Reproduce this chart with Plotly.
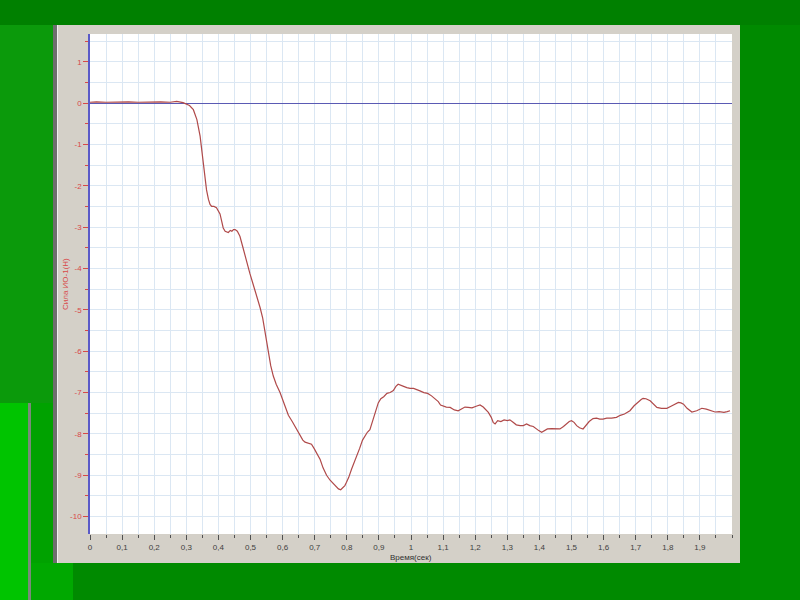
import plotly.graph_objects as go

# ---- data ----
time_s = [0, 0.02, 0.05, 0.08, 0.1, 0.12, 0.15, 0.18, 0.2, 0.22, 0.25, 0.27, 0.29, 0.30, 0.31,
          0.322, 0.333, 0.343, 0.353, 0.358, 0.363, 0.369, 0.374, 0.379, 0.386, 0.394, 0.400,
          0.405, 0.410, 0.415, 0.421, 0.426, 0.431, 0.437, 0.442, 0.447, 0.452, 0.459, 0.463,
          0.467, 0.475, 0.483, 0.490, 0.498, 0.507, 0.515, 0.523, 0.530, 0.538, 0.545, 0.555,
          0.563, 0.571, 0.580, 0.592, 0.605, 0.618, 0.630, 0.644, 0.655, 0.663, 0.670, 0.678,
          0.690, 0.698, 0.706, 0.717, 0.726, 0.737, 0.748, 0.758, 0.766, 0.774, 0.781, 0.788,
          0.794, 0.799, 0.806, 0.815, 0.823, 0.831, 0.840, 0.849, 0.857, 0.864, 0.872, 0.880,
          0.890, 0.898, 0.906, 0.915, 0.925, 0.935, 0.945, 0.953, 0.960, 0.968, 0.977, 0.987,
          0.997, 1.008, 1.018, 1.028, 1.040, 1.052, 1.064, 1.075, 1.085, 1.092, 1.100, 1.110,
          1.122, 1.135, 1.147, 1.158, 1.168, 1.178, 1.190, 1.203, 1.215, 1.225, 1.233, 1.241,
          1.250, 1.256, 1.262, 1.270, 1.280, 1.290, 1.300, 1.308, 1.318, 1.328, 1.340, 1.350,
          1.360, 1.370, 1.381, 1.390, 1.398, 1.407, 1.415, 1.425, 1.438, 1.450, 1.464, 1.475,
          1.485, 1.493, 1.500, 1.508, 1.516, 1.525, 1.536, 1.545, 1.555, 1.567, 1.578, 1.588,
          1.598, 1.610, 1.625, 1.640, 1.652, 1.665, 1.682, 1.695, 1.708, 1.718, 1.723, 1.732,
          1.745, 1.755, 1.766, 1.780, 1.797, 1.810, 1.822, 1.833, 1.841, 1.849, 1.860, 1.875,
          1.890, 1.906, 1.920, 1.935, 1.947, 1.960, 1.975, 1.985, 1.994]
force_n = [0.02, 0.03, 0.02, 0.03, 0.02, 0.03, 0.02, 0.03, 0.02, 0.03, 0.02, 0.04, 0.01, -0.02, -0.06,
           -0.16, -0.4, -0.8, -1.5, -1.85, -2.1, -2.33, -2.45, -2.5, -2.5, -2.53, -2.6,
           -2.68, -2.85, -3.02, -3.1, -3.12, -3.13, -3.08, -3.1, -3.06, -3.06, -3.1, -3.15,
           -3.22, -3.45, -3.7, -3.9, -4.12, -4.35, -4.55, -4.75, -4.95, -5.2, -5.55, -6.0,
           -6.35, -6.6, -6.8, -7.0, -7.3, -7.55, -7.7, -7.9, -8.05, -8.15, -8.2, -8.22,
           -8.25, -8.35, -8.48, -8.62, -8.82, -9.0, -9.12, -9.2, -9.26, -9.33, -9.35, -9.3,
           -9.25, -9.17, -9.05, -8.85, -8.7, -8.53, -8.35, -8.15, -8.04, -7.96, -7.9, -7.7,
           -7.45, -7.25, -7.15, -7.1, -7.02, -7.0, -6.95, -6.85, -6.8, -6.83, -6.85, -6.88,
           -6.9, -6.9, -6.94, -6.96, -7.0, -7.02, -7.08, -7.15, -7.22, -7.3, -7.32, -7.35,
           -7.36, -7.42, -7.44, -7.4, -7.35, -7.36, -7.37, -7.33, -7.3, -7.35, -7.42, -7.48,
           -7.6, -7.72, -7.76, -7.68, -7.7, -7.66, -7.68, -7.66, -7.72, -7.78, -7.8, -7.8,
           -7.76, -7.8, -7.82, -7.88, -7.92, -7.96, -7.92, -7.88, -7.87, -7.88, -7.88, -7.82,
           -7.74, -7.7, -7.68, -7.72, -7.8, -7.85, -7.88, -7.8, -7.7, -7.63, -7.62, -7.64,
           -7.64, -7.62, -7.62, -7.6, -7.55, -7.52, -7.44, -7.32, -7.22, -7.16, -7.14, -7.15,
           -7.2, -7.28, -7.36, -7.38, -7.38, -7.33, -7.28, -7.24, -7.25, -7.28, -7.38, -7.47,
           -7.44, -7.38, -7.4, -7.44, -7.47, -7.46, -7.48, -7.46, -7.44]

x_tick_vals = [0, 0.1, 0.2, 0.3, 0.4, 0.5, 0.6, 0.7, 0.8, 0.9, 1.0,
               1.1, 1.2, 1.3, 1.4, 1.5, 1.6, 1.7, 1.8, 1.9]
x_tick_text = ["0", "0,1", "0,2", "0,3", "0,4", "0,5", "0,6", "0,7", "0,8", "0,9", "1",
               "1,1", "1,2", "1,3", "1,4", "1,5", "1,6", "1,7", "1,8", "1,9"]
y_tick_vals = [1, 0, -1, -2, -3, -4, -5, -6, -7, -8, -9, -10]
y_tick_text = ["1", "0", "-1", "-2", "-3", "-4", "-5", "-6", "-7", "-8", "-9", "-10"]

x_title = "Время(сек)"
y_title = "Сила ИО-1(Н)"

FONT = "Liberation Sans, Arial, sans-serif"
RED = "#d84848"
GRID = "#dbe7f3"

fig = go.Figure()
fig.add_trace(go.Scatter(x=time_s, y=force_n, mode="lines",
                         line=dict(color="#b04a4a", width=1.2), showlegend=False,
                         hoverinfo="skip"))

W, H = 800, 600
L, R, T, B = 90, 732, 34, 534


def px(xp):
    return (xp - L) / (R - L)


def py(yp):
    return (B - yp) / (B - T)


shapes = []
# green slide background pieces
shapes.append(dict(type="rect", xref="paper", yref="paper", x0=px(0), x1=px(55), y0=py(600), y1=py(0),
                   fillcolor="#0b9a0b", line_width=0, layer="below"))
shapes.append(dict(type="rect", xref="paper", yref="paper", x0=px(0), x1=px(28), y0=py(600), y1=py(403),
                   fillcolor="#00c400", line_width=0, layer="below"))
shapes.append(dict(type="rect", xref="paper", yref="paper", x0=px(28), x1=px(31), y0=py(600), y1=py(403),
                   fillcolor="#7a8a7a", line_width=0, layer="below"))
shapes.append(dict(type="rect", xref="paper", yref="paper", x0=px(31), x1=px(55), y0=py(600), y1=py(403),
                   fillcolor="#00a200", line_width=0, layer="below"))
shapes.append(dict(type="rect", xref="paper", yref="paper", x0=px(31), x1=px(73), y0=py(600), y1=py(563),
                   fillcolor="#00a800", line_width=0, layer="below"))
shapes.append(dict(type="rect", xref="paper", yref="paper", x0=px(0), x1=px(800), y0=py(25), y1=py(0),
                   fillcolor="#008000", line_width=0, layer="below"))
shapes.append(dict(type="rect", xref="paper", yref="paper", x0=px(740), x1=px(800), y0=py(600), y1=py(160),
                   fillcolor="#008e00", line_width=0, layer="below"))
# grey panel
shapes.append(dict(type="rect", xref="paper", yref="paper", x0=px(55), x1=px(740), y0=py(563), y1=py(25),
                   fillcolor="#d4d0c8", line_width=0, layer="below"))
shapes.append(dict(type="rect", xref="paper", yref="paper", x0=px(53), x1=px(57), y0=py(563), y1=py(25),
                   fillcolor="#6e6e6e", line_width=0, layer="below"))
shapes.append(dict(type="rect", xref="paper", yref="paper", x0=px(57), x1=px(58), y0=py(563), y1=py(25),
                   fillcolor="#f0f0f0", line_width=0, layer="below"))
# white plot area
shapes.append(dict(type="rect", xref="paper", yref="paper", x0=0, x1=1, y0=0, y1=1,
                   fillcolor="#ffffff", line_width=0, layer="below"))

fig.update_layout(
    width=W, height=H,
    margin=dict(l=L, r=W - R, t=T, b=H - B, pad=0),
    paper_bgcolor="#008a00",
    plot_bgcolor="rgba(0,0,0,0)",
    font=dict(family=FONT, size=8),
    shapes=shapes,
    showlegend=False,
    xaxis=dict(range=[0, 2.0], tickvals=x_tick_vals, ticktext=x_tick_text,
               showgrid=True, gridcolor=GRID, gridwidth=1,
               ticks="outside", ticklen=5, tickcolor="#505050", tickwidth=1,
               tickfont=dict(color="#404040", size=8, family=FONT),
               showline=False, zeroline=False,
               minor=dict(dtick=0.05, tick0=0, showgrid=True, gridcolor=GRID,
                          ticks="outside", ticklen=3, tickcolor="#505050")),
    yaxis=dict(range=[-10.42, 1.67], tickvals=y_tick_vals, ticktext=y_tick_text,
               showgrid=True, gridcolor=GRID, gridwidth=1,
               ticks="outside", ticklen=5, tickcolor=RED, tickwidth=1,
               tickfont=dict(color=RED, size=8, family=FONT),
               showline=True, linecolor="#5a5ac8", linewidth=1.5,
               zeroline=True, zerolinecolor="#5a5ab4", zerolinewidth=1,
               minor=dict(dtick=0.5, tick0=0, showgrid=True, gridcolor=GRID,
                          ticks="outside", ticklen=3, tickcolor=RED)),
    annotations=[
        dict(text=x_title, xref="paper", yref="paper", x=0.5, y=py(557), showarrow=False,
             font=dict(size=8, color="#303030", family=FONT), xanchor="center", yanchor="middle"),
        dict(text=y_title, xref="paper", yref="paper", x=px(65), y=0.5, showarrow=False,
             textangle=-90, font=dict(size=8, color=RED, family=FONT),
             xanchor="center", yanchor="middle"),
    ],
)

fig.write_html("out.html", config={"displayModeBar": False},
               post_script="document.body.style.margin='0';document.body.style.overflow='hidden';")
